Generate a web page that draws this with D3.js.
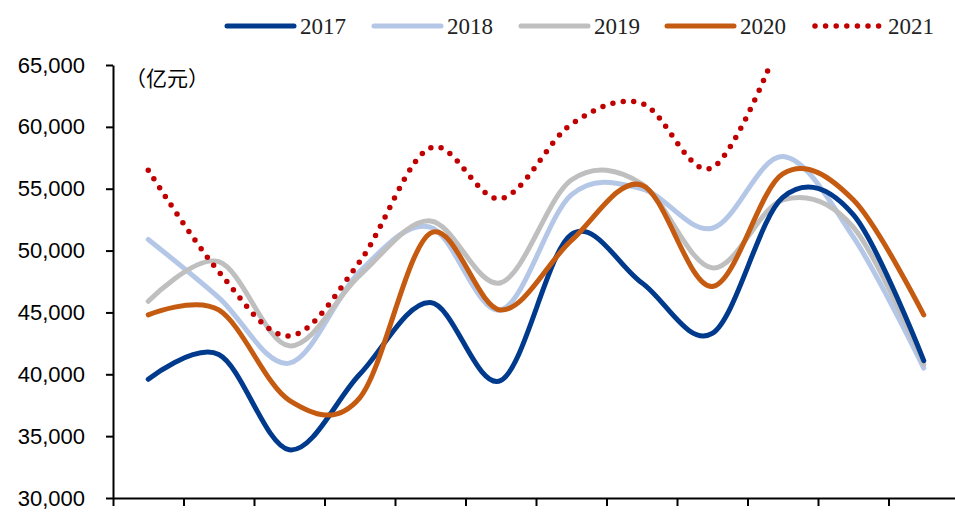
<!DOCTYPE html>
<html>
<head>
<meta charset="utf-8">
<script src="https://cdn.jsdelivr.net/npm/d3@7"></script>
<style>
  html, body { margin: 0; padding: 0; background: #fff; }
  svg { display: block; }
</style>
</head>
<body>
<svg id="chart" width="955" height="518"></svg>
<script>
// Monthly values (亿元), one array per year
const months = ["1月","2月","3月","4月","5月","6月","7月","8月","9月","10月","11月","12月"];
const y2017 = [39600, 41600, 33900, 40000, 45800, 39500, 51300, 47400, 43300, 54300, 52900, 41100];
const y2018 = [50900, 46200, 40900, 48300, 51900, 45200, 54500, 55000, 51800, 57600, 51100, 40500];
const y2019 = [45900, 49100, 42300, 48000, 52400, 47400, 55700, 55400, 48600, 54100, 51900, 40800];
const y2020 = [44800, 45200, 37900, 38100, 51400, 45200, 50800, 55300, 47100, 56200, 54100, 44800];
const y2021 = [56500, 48300, 43100, 49100, 58300, 54200, 60200, 61900, 56700, 67500];
const yTicks = [30000, 35000, 40000, 45000, 50000, 55000, 60000, 65000];

const series = [
  { name: "2018", values: y2018, color: "#B4C7E7", dotted: false },
  { name: "2019", values: y2019, color: "#BFBFBF", dotted: false },
  { name: "2017", values: y2017, color: "#003A8C", dotted: false },
  { name: "2020", values: y2020, color: "#C55A11", dotted: false },
  { name: "2021", values: y2021, color: "#C00000", dotted: true }
];
const legendOrder = ["2017", "2018", "2019", "2020", "2021"];

const svg = d3.select("#chart");
const plotLeft = 113, plotRight = 959, plotTop = 65, plotBottom = 498;

const x = d3.scaleLinear().domain([0, months.length]).range([plotLeft, plotRight]);
const y = d3.scaleLinear().domain([30000, 65000]).range([plotBottom, plotTop]);

svg.append("defs").append("clipPath").attr("id", "plot")
  .append("rect").attr("x", plotLeft).attr("y", plotTop)
  .attr("width", plotRight - plotLeft).attr("height", plotBottom - plotTop);

// Axes
const yAxis = svg.append("g").attr("transform", `translate(${plotLeft},0)`)
  .call(d3.axisLeft(y).tickValues(yTicks).tickFormat(d3.format(",")).tickSize(7).tickPadding(21).tickSizeOuter(0));
yAxis.select(".domain").attr("stroke", "#000").attr("stroke-width", 2);
yAxis.selectAll(".tick line").attr("stroke", "#000").attr("stroke-width", 2);
yAxis.selectAll(".tick text").attr("font-family", "'Liberation Sans', Arial, sans-serif").attr("font-size", 22).attr("fill", "#000");

const xAxis = svg.append("g").attr("transform", `translate(0,${plotBottom})`)
  .call(d3.axisBottom(x).tickValues(d3.range(0, months.length + 1)).tickFormat("").tickSize(8).tickSizeOuter(0));
xAxis.select(".domain").attr("stroke", "#000").attr("stroke-width", 2);
xAxis.selectAll(".tick line").attr("stroke", "#000").attr("stroke-width", 2);

// Unit label
svg.append("text").attr("x", 125).attr("y", 86)
  .attr("font-family", "'Noto Sans CJK SC', sans-serif").attr("font-size", 21).attr("fill", "#000")
  .text("（亿元）");

// Lines
const line = d3.line()
  .x((d, i) => x(i + 0.5))
  .y(d => y(d))
  .curve(d3.curveCatmullRom.alpha(0));

const lines = svg.append("g").attr("clip-path", "url(#plot)");
series.forEach(s => {
  const p = lines.append("path").datum(s.values)
    .attr("d", line)
    .attr("fill", "none")
    .attr("stroke", s.color)
    .attr("stroke-linecap", "round")
    .attr("stroke-linejoin", "round");
  if (s.dotted) p.attr("stroke-width", 5.5).attr("stroke-dasharray", "0,10.5");
  else p.attr("stroke-width", 5);
});

// Legend
const legendX = [227, 374, 521, 667, 815];
const legend = svg.append("g");
legendOrder.forEach((name, i) => {
  const s = series.find(d => d.name === name);
  const g = legend.append("g").attr("transform", `translate(${legendX[i]},26)`);
  const l = g.append("line").attr("x1", 0).attr("x2", 67).attr("y1", 0).attr("y2", 0)
    .attr("stroke", s.color).attr("stroke-linecap", "round");
  if (s.dotted) l.attr("x2", 64).attr("stroke-width", 5.5).attr("stroke-dasharray", "0,10.6");
  else l.attr("stroke-width", 5);
  g.append("text").attr("x", 73).attr("y", 8)
    .attr("font-family", "'Liberation Serif', 'Times New Roman', serif").attr("font-size", 23).attr("fill", "#222")
    .text(name);
});
</script>
</body>
</html>
